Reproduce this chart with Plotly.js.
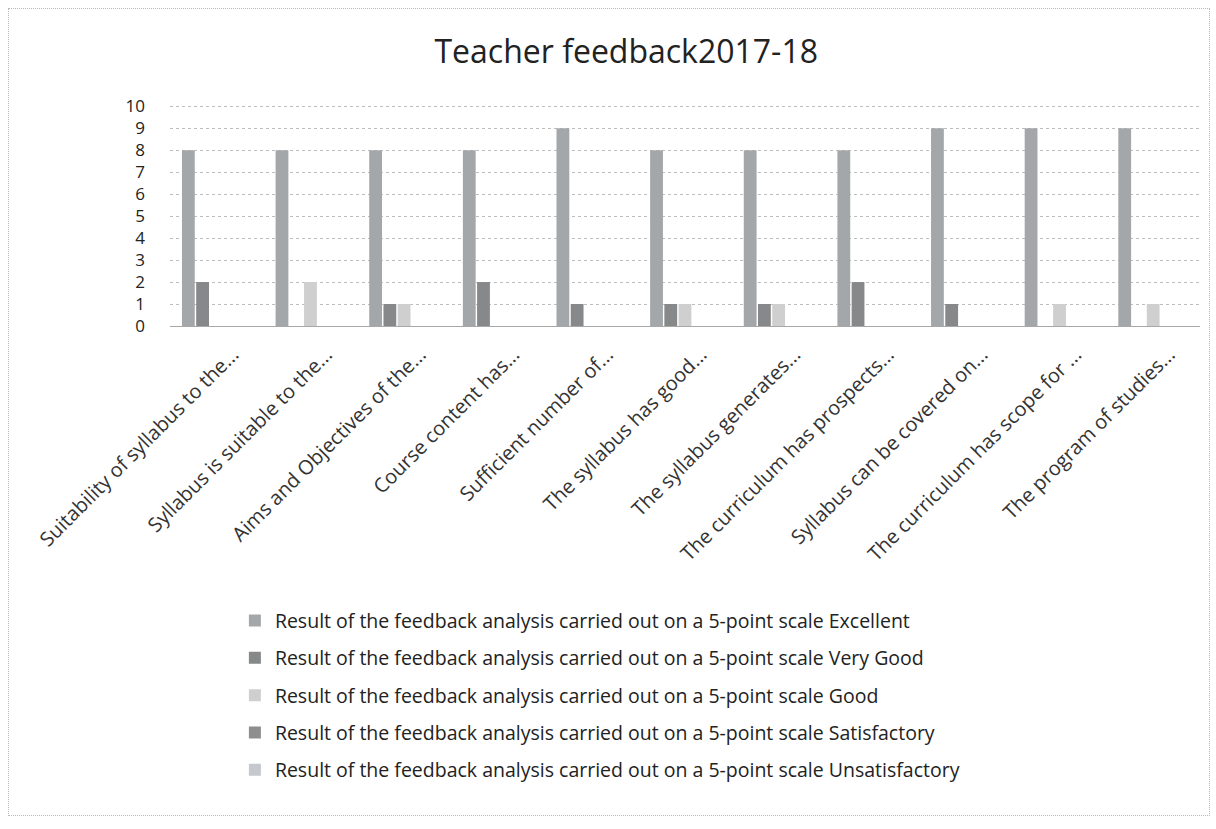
<!DOCTYPE html>
<html>
<head>
<meta charset="utf-8">
<script src="https://cdn.plot.ly/plotly-3.0.1.min.js"></script>
<style>
  html, body { margin: 0; padding: 0; background: #fff; }
  #chart { width: 1216px; height: 829px; }
  #frame { position: absolute; left: 8px; top: 8px; width: 1200px; height: 806px; border: 1px dotted #b8b8b8; pointer-events: none; }
</style>
</head>
<body>
<div id="chart"></div>
<div id="frame"></div>
<script>
const categories = [
  "Suitability of syllabus to the...",
  "Syllabus is suitable to the...",
  "Aims and Objectives of the...",
  "Course content has...",
  "Sufficient number of...",
  "The syllabus has good...",
  "The syllabus generates...",
  "The curriculum has prospects...",
  "Syllabus can be covered on...",
  "The curriculum has scope for ...",
  "The program of studies..."
];
const seriesNames = [
  "Result of the feedback analysis carried out on a 5-point scale Excellent",
  "Result of the feedback analysis carried out on a 5-point scale Very Good",
  "Result of the feedback analysis carried out on a 5-point scale Good",
  "Result of the feedback analysis carried out on a 5-point scale Satisfactory",
  "Result of the feedback analysis carried out on a 5-point scale Unsatisfactory"
];
const excellent      = [8, 8, 8, 8, 9, 8, 8, 8, 9, 9, 9];
const veryGood       = [2, 0, 1, 2, 1, 1, 1, 2, 1, 0, 0];
const good           = [0, 2, 1, 0, 0, 1, 1, 0, 0, 1, 1];
const satisfactory   = [0, 0, 0, 0, 0, 0, 0, 0, 0, 0, 0];
const unsatisfactory = [0, 0, 0, 0, 0, 0, 0, 0, 0, 0, 0];
const yTicks = [0, 1, 2, 3, 4, 5, 6, 7, 8, 9, 10];

const colors = ["#a4a7aa", "#868889", "#cfcfcf", "#8e8e8e", "#c5c8cc"];
const values = [excellent, veryGood, good, satisfactory, unsatisfactory];

const traces = values.map((v, i) => ({
  type: "bar",
  name: seriesNames[i],
  x: categories,
  y: v,
  legendgroup: "g" + i,
  marker: { color: colors[i], line: { width: 0 } },
  hoverinfo: "y+name"
}));

const font = "'Open Sans', 'Liberation Sans', sans-serif";

const layout = {
  width: 1216,
  height: 829,
  paper_bgcolor: "#ffffff",
  plot_bgcolor: "#ffffff",
  font: { family: font, color: "#1e1e1e" },
  title: {
    text: "Teacher feedback2017-18",
    x: 0.515, xanchor: "center",
    y: 0.938, yanchor: "middle",
    font: { size: 32, family: font, color: "#222" }
  },
  margin: { l: 170, r: 16, t: 104, b: 503 },
  barmode: "group",
  bargap: 0.24,
  bargroupgap: 0.1,
  xaxis: {
    type: "category",
    tickangle: -45,
    tickfont: { size: 20, family: font, color: "#333" },
    showgrid: false,
    showline: false,
    ticks: "",
    ticklabelstandoff: 12,
    ticklabelshift: 16,
    automargin: false
  },
  yaxis: {
    range: [0, 10.1],
    tickvals: yTicks,
    ticktext: yTicks.map(String),
    tickfont: { size: 17, family: font, color: "#222" },
    showgrid: true,
    gridcolor: "#bdbdbd",
    griddash: "dot",
    gridwidth: 1,
    zeroline: true,
    zerolinecolor: "#a8a8a8",
    zerolinewidth: 1,
    showline: false,
    ticks: "",
    ticklabelstandoff: 24,
    automargin: false
  },
  showlegend: true,
  legend: {
    orientation: "v",
    x: 0.063, xanchor: "left",
    y: -1.24, yanchor: "top",
    font: { size: 19.5, family: font, color: "#222" },
    tracegroupgap: 9,
    itemwidth: 30,
    bgcolor: "rgba(0,0,0,0)"
  }
};

Plotly.newPlot("chart", traces, layout, { displayModeBar: false, staticPlot: true });
</script>
</body>
</html>
